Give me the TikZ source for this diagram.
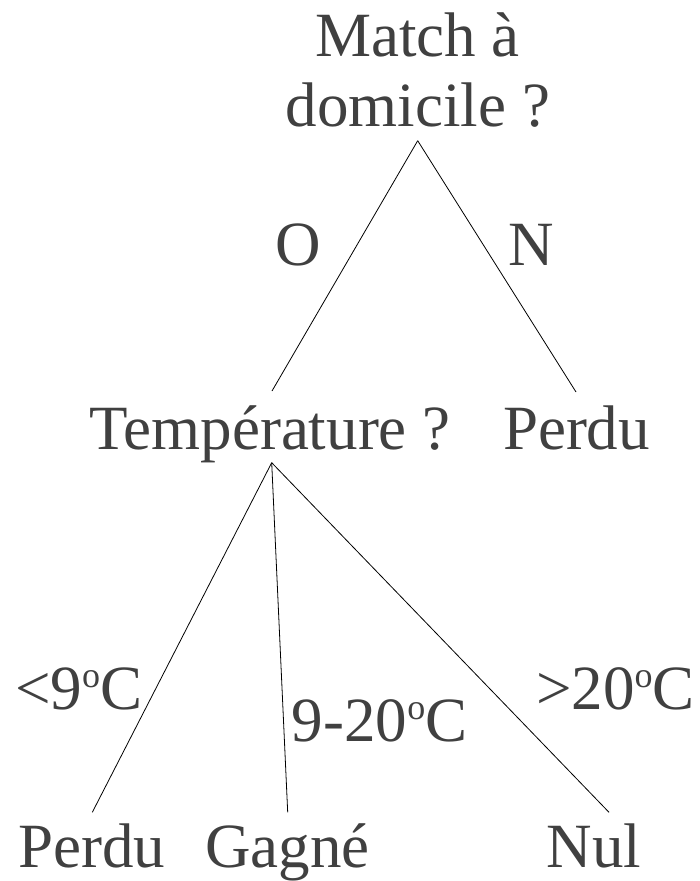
\documentclass[tikz,border=0pt]{standalone}
\usepackage{fontspec}
\setmainfont{Liberation Serif}
\definecolor{txt}{HTML}{404040}
\newcommand\degsup{\raisebox{0.34em}{\fontsize{36}{40}\selectfont o}}
\begin{document}
\begin{tikzpicture}[x=1pt,y=-1pt,
  lbl/.style={inner sep=0pt,text=txt,font=\fontsize{63}{70}\selectfont},
  edge/.style={draw=black,line width=0.8pt}]
\useasboundingbox (0,0) rectangle (700,881);
% nodes
\node[lbl,anchor=base] (match1) at (417.5,56) {Match à};
\node[lbl,anchor=base] (match2) at (418,126) {domicile ?};
\node[lbl,anchor=base] (temp) at (270,449) {Température ?};
\node[lbl,anchor=base] (perdu1) at (576.5,449) {Perdu};
\node[lbl,anchor=base] (o) at (298,265) {O};
\node[lbl,anchor=base] (n) at (531.5,265) {N};
\node[lbl,anchor=base west] (perdu2) at (18,867) {Perdu};
\node[lbl,anchor=base west] (gagne) at (205,867) {Gagné};
\node[lbl,anchor=base west] (nul) at (546.7,867) {Nul};
\node[lbl,anchor=base west] (lt) at (15,709) {<9\degsup C};
\node[lbl,anchor=base west] (mid) at (291.7,741) {9-20\degsup C};
\node[lbl,anchor=base west] (gt) at (536,709) {>20\degsup C};
% connector end points
\coordinate (rootb) at (417.7,140.7);
\coordinate (tempt) at (272,391);
\coordinate (perdu1t) at (576,392);
\coordinate (tempb) at (271.7,462.7);
\coordinate (perdu2t) at (92.3,812.3);
\coordinate (gagnet) at (287.7,812.3);
\coordinate (nult) at (609,812.3);
% connectors
\draw[edge] (rootb) -- (tempt);
\draw[edge] (rootb) -- (perdu1t);
\draw[edge] (tempb) -- (perdu2t);
\draw[edge] (tempb) -- (gagnet);
\draw[edge] (tempb) -- (nult);
\end{tikzpicture}
\end{document}
